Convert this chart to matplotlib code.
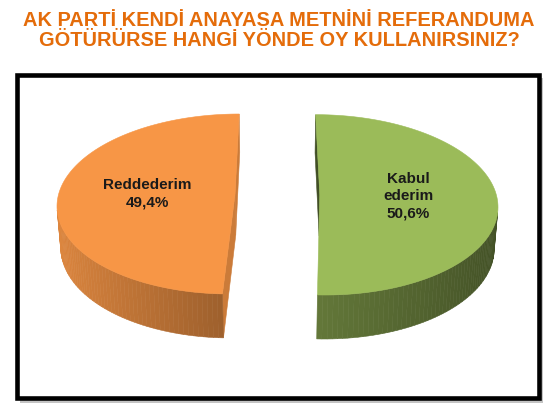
import numpy as np
import matplotlib.pyplot as plt
from matplotlib.patches import Polygon, Rectangle

# data
title_lines = ["AK PARTİ KENDİ ANAYASA METNİNİ REFERANDUMA",
               "GÖTÜRÜRSE HANGİ YÖNDE OY KULLANIRSINIZ?"]
labels = ["Kabul\nederim", "Reddederim"]
values = [50.6, 49.4]
colors = ["#9bbb59", "#f79646"]
cut_shade = [0.42, 0.82]

# 3d pie settings
ELEV = np.radians(30)
DIST = 8.0
THICK = 0.27
EXPLODE = 0.24
START = 90.0
LABEL_R = 0.5
PIE_BOX = (57, 115, 498, 340)   # left, top, right, bottom in pixels

W, H = 559, 414
FONT = "Liberation Sans"


def project(X, Y, Z):
    yc = Y * np.sin(ELEV) + Z * np.cos(ELEV)
    zc = DIST + Y * np.cos(ELEV) - Z * np.sin(ELEV)
    return X / zc, -yc / zc


cam = np.array([0.0, -DIST * np.cos(ELEV), DIST * np.sin(ELEV)])


def visible(normal, point):
    return np.dot(normal, cam - np.asarray(point)) > 0


def shade(rgb, f):
    return tuple(np.clip(np.array(rgb) * f, 0, 1))


def side_factor(nx):
    return 0.63 - 0.27 * nx if nx < 0 else 0.63 - 0.2 * nx


# build faces in 3d
faces = []   # (points3d, color, zorder)
label_pts = []
fracs = np.array(values) / sum(values)
t_start = START
for frac, col, cs in zip(fracs, colors, cut_shade):
    rgb = plt.matplotlib.colors.to_rgb(col)
    t_end = t_start - frac * 360.0
    m = np.radians((t_start + t_end) / 2)
    ox, oy = EXPLODE * np.cos(m), EXPLODE * np.sin(m)
    ts = np.radians(np.linspace(t_start, t_end, 120))
    rx, ry = ox + np.cos(ts), oy + np.sin(ts)

    # cut faces
    for t, sgn in ((np.radians(t_start), 1), (np.radians(t_end), -1)):
        n = np.array([-np.sin(t) * sgn, np.cos(t) * sgn, 0.0])
        px, py = ox + np.cos(t), oy + np.sin(t)
        pts = [(ox, oy, 0), (px, py, 0), (px, py, -THICK), (ox, oy, -THICK)]
        if visible(n, ((ox + px) / 2, (oy + py) / 2, -THICK / 2)):
            faces.append((pts, shade(rgb, cs), 2))

    # rim strips
    for i in range(len(ts) - 1):
        tm = (ts[i] + ts[i + 1]) / 2
        n = np.array([np.cos(tm), np.sin(tm), 0.0])
        if not visible(n, (ox + np.cos(tm), oy + np.sin(tm), -THICK / 2)):
            continue
        pts = [(rx[i], ry[i], 0), (rx[i + 1], ry[i + 1], 0),
               (rx[i + 1], ry[i + 1], -THICK), (rx[i], ry[i], -THICK)]
        faces.append((pts, shade(rgb, side_factor(np.cos(tm))), 3))

    # top face
    top = [(ox, oy, 0)] + [(x, y, 0) for x, y in zip(rx, ry)]
    faces.append((top, rgb, 4))

    label_pts.append((ox + LABEL_R * np.cos(m), oy + LABEL_R * np.sin(m), 0))
    t_start = t_end

# fit the projection into the pie box
all_xy = np.array([project(*p) for f in faces for p in f[0]])
x0, y0 = all_xy.min(axis=0)
x1, y1 = all_xy.max(axis=0)
sx = (PIE_BOX[2] - PIE_BOX[0]) / (x1 - x0)
sy = (PIE_BOX[3] - PIE_BOX[1]) / (y1 - y0)


def to_px(p):
    u, v = project(*p)
    return PIE_BOX[0] + (u - x0) * sx, PIE_BOX[1] + (v - y0) * sy


fig = plt.figure(figsize=(W / 100, H / 100), dpi=100)
ax = fig.add_axes([0, 0, 1, 1])
ax.set_xlim(0, W)
ax.set_ylim(H, 0)
ax.axis("off")

# frame with soft shadow
ax.add_patch(Rectangle((20, 79), 523, 325, fc="#c4c4c4", ec="none", zorder=0))
ax.add_patch(Rectangle((17.3, 76.3), 521.4, 322.4, fc="white", ec="black", lw=3.3, zorder=1))

for pts, col, z in faces:
    xy = [to_px(p) for p in pts]
    ax.add_patch(Polygon(xy, closed=True, fc=col, ec=col, lw=0.4, zorder=z))

for (lx, ly, lz), lab, v in zip(label_pts, labels, values):
    px, py = to_px((lx, ly, lz))
    txt = f"{lab}\n{v:.1f}%".replace(".", ",")
    ax.text(px, py - 1, txt, ha="center", va="center", fontsize=11, fontweight="bold",
            family=FONT, color="#1a1a1a", linespacing=1.3, zorder=6)

for line, base in zip(title_lines, (25.5, 46.5)):
    ax.text(W / 2 - 0.5, base, line, ha="center", va="baseline", fontsize=14.4,
            fontweight="bold", family=FONT, color="#e46c0a")

fig.savefig("out.png", dpi=100)
